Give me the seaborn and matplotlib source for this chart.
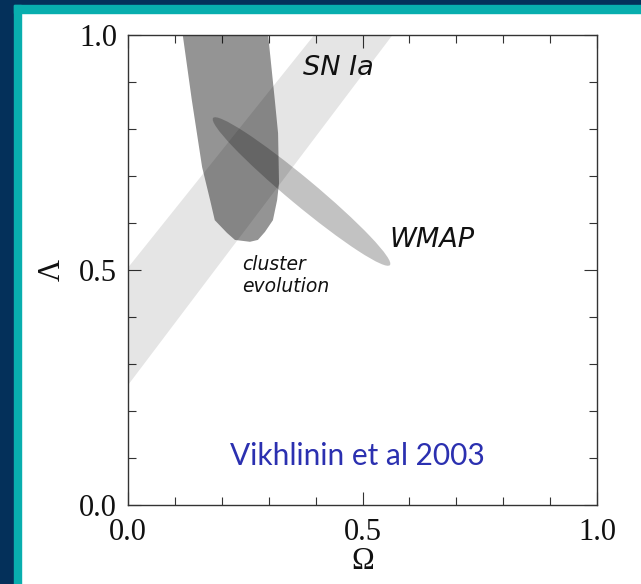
import numpy as np
import pandas as pd
import matplotlib
matplotlib.use("Agg")
import matplotlib.pyplot as plt
from matplotlib.patches import Ellipse, Rectangle
import seaborn as sns

# ---- data ----
# SN Ia confidence band (Omega, Lambda vertices)
sn_omega = [0.0, 0.0, 0.397, 0.564]
sn_lambda = [0.255, 0.505, 1.0, 1.0]

# cluster evolution region contour
cluster_omega = [0.113, 0.117, 0.136, 0.158, 0.175, 0.185, 0.211, 0.228, 0.260,
                 0.277, 0.292, 0.309, 0.318, 0.322, 0.320, 0.313, 0.299, 0.298]
cluster_lambda = [1.02, 0.998, 0.862, 0.719, 0.649, 0.606, 0.579, 0.564, 0.560,
                  0.564, 0.581, 0.606, 0.649, 0.685, 0.791, 0.862, 0.998, 1.02]

# WMAP ellipse: centre, full major/minor extent, angle (deg)
wmap_center = (0.370, 0.667)
wmap_major = 0.490
wmap_minor = 0.057
wmap_angle = -39.7

xticks_major = [0.0, 0.5, 1.0]
xtick_labels = ["0.0", "0.5", "1.0"]
yticks_major = [0.0, 0.5, 1.0]
ytick_labels = ["0.0", "0.5", "1.0"]
minor_ticks = [0.1, 0.2, 0.3, 0.4, 0.6, 0.7, 0.8, 0.9]

sn = pd.DataFrame({"Omega": sn_omega, "Lambda": sn_lambda})
cl = pd.DataFrame({"Omega": cluster_omega, "Lambda": cluster_lambda})

# ---- style ----
sns.set_style("white")
plt.rcParams["font.family"] = ["Liberation Serif", "DejaVu Serif"]

W, H = 641, 584
fig = plt.figure(figsize=(W / 100, H / 100), dpi=100)
fig.patch.set_facecolor("white")
ax = fig.add_axes([128 / W, 1 - 505 / H, 469 / W, 470 / H])
ax.set_facecolor("white")

# frame decoration
navy = "#04305a"
teal = "#08aeae"
fig.patches.append(Rectangle((0, 0), 14 / W, 1, transform=fig.transFigure, color=navy, zorder=-5))
fig.patches.append(Rectangle((0, 1 - 5 / H), 1, 5 / H, transform=fig.transFigure, color=navy, zorder=-5))
fig.patches.append(Rectangle((14 / W, 0), 7 / W, 1 - 5 / H, transform=fig.transFigure, color=teal, zorder=-4))
fig.patches.append(Rectangle((14 / W, 1 - 13 / H), 1, 8 / H, transform=fig.transFigure, color=teal, zorder=-4))

# regions
ax.fill(sn["Omega"], sn["Lambda"], color="black", alpha=0.10, lw=0, zorder=1)
ax.fill(cl["Omega"], cl["Lambda"], color="black", alpha=0.42, lw=0, zorder=2)
ax.add_patch(Ellipse(wmap_center, wmap_major, wmap_minor, angle=wmap_angle,
                     facecolor="black", alpha=0.24, lw=0, zorder=3))

ax.set_xlim(0, 1)
ax.set_ylim(0, 1)

ax.set_xticks(xticks_major)
ax.set_xticklabels(xtick_labels)
ax.set_yticks(yticks_major)
ax.set_yticklabels(ytick_labels)
ax.set_xticks(minor_ticks, minor=True)
ax.set_yticks(minor_ticks, minor=True)
ax.tick_params(which="both", direction="in", top=True, right=True, bottom=True, left=True,
               color="#333333", width=0.8, labelsize=22, labelcolor="#111111")
ax.tick_params(which="major", length=9.5)
ax.tick_params(axis="x", which="major", pad=9.5)
ax.tick_params(axis="y", which="major", pad=8)
ax.tick_params(which="minor", length=5.8)
for s in ax.spines.values():
    s.set_color("#333333")
    s.set_linewidth(1.0)
    s.set_zorder(5)

ax.set_xlabel("Ω", fontsize=22, labelpad=0, color="#111111")
ax.set_ylabel("Λ", fontsize=22, labelpad=9, color="#111111")

# annotations
sans_it = dict(family=["DejaVu Sans"], style="italic", color="#111111")
ax.text(0.373, 0.915, "SN Ia", fontsize=19.5, ha="left", va="baseline", **sans_it)
ax.text(0.558, 0.548, "WMAP", fontsize=19.5, ha="left", va="baseline", **sans_it)
ax.text(0.243, 0.5, "cluster", fontsize=13.5, ha="left", va="baseline", **sans_it)
ax.text(0.243, 0.453, "evolution", fontsize=13.5, ha="left", va="baseline", **sans_it)
ax.text(0.489, 0.085, "Vikhlinin et al 2003", fontsize=21.5, ha="center", va="baseline",
        family=["Lato", "DejaVu Sans"], color="#2b30b0")

fig.savefig("out.png", dpi=100, facecolor="white")
